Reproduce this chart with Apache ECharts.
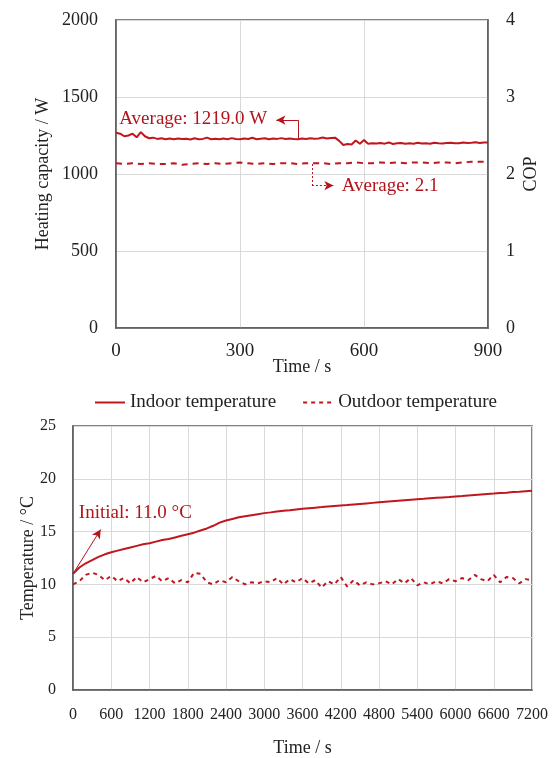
<!DOCTYPE html>
<html>
<head>
<meta charset="utf-8">
<script src="https://cdn.jsdelivr.net/npm/echarts@6/dist/echarts.min.js"></script>
<style>html,body{margin:0;padding:0;background:#fff}#c{width:558px;height:758px}</style>
</head>
<body>
<div id="c"></div>
<script>
// Top chart: time (s) every 10 s
const capTimeStep = 10;
const heatingCapacity = [1268,1262,1245,1250,1262,1238,1272,1245,1232,1236,1228,1232,1226,1230,1225,1231,1227,1229,1224,1232,1226,1228,1236,1226,1229,1225,1230,1226,1233,1227,1225,1231,1227,1235,1226,1229,1232,1226,1230,1228,1233,1227,1231,1228,1226,1230,1228,1232,1229,1231,1237,1230,1234,1236,1215,1188,1195,1192,1218,1196,1220,1197,1200,1198,1201,1197,1205,1195,1199,1202,1197,1200,1196,1203,1198,1200,1197,1203,1199,1198,1201,1203,1199,1200,1205,1201,1203,1206,1201,1205,1204];
const copTimeStep = 20;
const cop = [2.14,2.13,2.14,2.13,2.14,2.13,2.13,2.14,2.12,2.13,2.14,2.13,2.14,2.13,2.14,2.15,2.14,2.13,2.14,2.13,2.14,2.14,2.13,2.14,2.14,2.14,2.13,2.14,2.14,2.15,2.14,2.14,2.15,2.14,2.15,2.14,2.15,2.15,2.14,2.15,2.15,2.14,2.15,2.16,2.16,2.16];
// Bottom chart: time (s) every 100 s
const tempTimeStep = 100;
const indoorTemp = [11.0,11.6,12.0,12.3,12.6,12.85,13.05,13.2,13.35,13.5,13.65,13.8,13.9,14.05,14.2,14.3,14.45,14.6,14.75,14.9,15.1,15.3,15.55,15.85,16.05,16.2,16.35,16.45,16.55,16.65,16.75,16.82,16.9,16.97,17.03,17.1,17.16,17.22,17.27,17.32,17.38,17.43,17.48,17.52,17.57,17.62,17.67,17.72,17.77,17.82,17.87,17.92,17.97,18.02,18.07,18.11,18.16,18.2,18.24,18.28,18.33,18.37,18.42,18.47,18.52,18.56,18.6,18.65,18.69,18.74,18.78,18.83,18.86];
const outdoorTemp = [10.0,10.3,10.9,11.1,10.9,10.4,10.8,10.3,10.6,10.1,10.7,10.2,10.5,10.8,10.3,10.6,10.1,10.4,10.2,11.1,11.0,10.2,10.0,10.4,10.2,10.7,10.3,10.0,10.2,10.1,10.3,10.2,10.6,10.0,10.5,10.2,10.6,10.1,10.4,9.7,10.3,10.0,10.7,9.8,10.4,9.9,10.2,10.0,10.1,10.3,10.0,10.5,10.1,10.6,9.9,10.2,10.0,10.3,10.1,10.5,10.3,10.6,10.4,10.9,10.5,10.3,10.9,10.2,10.7,10.6,10.1,10.5,10.4];
const seriesNames = ['Heating capacity','COP','Indoor temperature','Outdoor temperature'];
const topXTicks = {min:0, max:900, interval:300};
const topYTicks = {min:0, max:2000, interval:500};
const copTicks = {min:0, max:4, interval:1};
const botXTicks = {min:0, max:7200, interval:600};
const botYTicks = {min:0, max:25, interval:5};
const annCapText = 'Average: 1219.0 W';
const annCopText = 'Average: 2.1';
const annInitText = 'Initial: 11.0 °C';

const toPairs = (arr, step) => arr.map((v,i)=>[i*step, v]);
const RED = '#C0161E';
const ANN = '#B3141C';
const FONT = 'Liberation Serif';
const plain = v => String(v);
const axisLbl = (size)=>({fontFamily:FONT,fontSize:size,color:'#222',formatter:plain});
const splitL = {show:true,lineStyle:{color:'#d9d9d9',width:1}};
const axLine = {show:true,lineStyle:{color:'#595959',width:1.5}};
const nameTS = {fontFamily:FONT,fontSize:18,color:'#222'};

const chart = echarts.init(document.getElementById('c'), null, {renderer:'canvas'});
chart.setOption({
  animation:false,
  backgroundColor:'#fff',
  grid:[
    {left:116,right:70,top:20,height:308,show:true,borderColor:'#595959',borderWidth:1.5,backgroundColor:'transparent'},
    {left:73,right:26,top:426,height:266,show:true,borderColor:'#595959',borderWidth:1.5,backgroundColor:'transparent'}
  ],
  legend:{
    data:['Indoor temperature','Outdoor temperature'],
    left:89, top:388, itemWidth:30, itemHeight:10, itemGap:26,
    itemStyle:{opacity:0},
    textStyle:{fontFamily:FONT,fontSize:19,color:'#222'},
    selectedMode:false
  },
  xAxis:[
    {type:'value',gridIndex:0,...topXTicks,axisLine:axLine,axisTick:{show:false},splitLine:splitL,
     axisLabel:{...axisLbl(19),margin:14},
     name:'Time / s',nameLocation:'middle',nameGap:30,nameMoveOverlap:false,nameTextStyle:nameTS},
    {type:'value',gridIndex:1,...botXTicks,axisLine:axLine,axisTick:{show:false},splitLine:splitL,
     axisLabel:{...axisLbl(16),margin:17},
     name:'Time / s',nameLocation:'middle',nameGap:49,nameMoveOverlap:false,nameTextStyle:nameTS}
  ],
  yAxis:[
    {type:'value',gridIndex:0,...topYTicks,axisLine:axLine,axisTick:{show:false},splitLine:splitL,
     axisLabel:{...axisLbl(18),margin:18},
     name:'Heating capacity / W',nameLocation:'middle',nameGap:64,nameMoveOverlap:false,nameTextStyle:nameTS},
    {type:'value',gridIndex:0,position:'right',...copTicks,axisLine:axLine,axisTick:{show:false},splitLine:{show:false},
     axisLabel:{...axisLbl(18),margin:18},
     name:'COP',nameLocation:'middle',nameGap:34,nameMoveOverlap:false,nameTextStyle:nameTS},
    {type:'value',gridIndex:1,...botYTicks,axisLine:axLine,axisTick:{show:false},splitLine:splitL,
     axisLabel:{...axisLbl(16),margin:17},
     name:'Temperature / °C',nameLocation:'middle',nameGap:36,nameMoveOverlap:false,nameTextStyle:nameTS}
  ],
  series:[
    {name:seriesNames[0],type:'line',xAxisIndex:0,yAxisIndex:0,data:toPairs(heatingCapacity,capTimeStep),
     symbol:'none',lineStyle:{color:RED,width:2},itemStyle:{color:RED},
     markLine:{silent:true,symbol:['none','arrow'],symbolSize:[7,9],label:{show:false},
       lineStyle:{color:ANN,width:1,type:'solid'},
       data:[
         [{coord:[440,1228],symbol:'none'},{coord:[440,1350],symbol:'none'}],
         [{coord:[440,1350],symbol:'none'},{coord:[388,1350],symbol:'arrow'}]
       ]},
     markPoint:{silent:true,symbol:'circle',symbolSize:0,
       data:[{coord:[8,1357],label:{show:true,position:'right',distance:0,formatter:annCapText,
         fontFamily:FONT,fontSize:19,color:ANN}}]}
    },
    {name:seriesNames[1],type:'line',xAxisIndex:0,yAxisIndex:1,data:toPairs(cop,copTimeStep),
     symbol:'none',lineStyle:{color:RED,width:2,type:[6,5]},itemStyle:{color:RED},
     markLine:{silent:true,symbol:['none','arrow'],symbolSize:[7,9],label:{show:false},
       lineStyle:{color:ANN,width:1,type:[2,2]},
       data:[
         [{coord:[474,2.13],symbol:'none'},{coord:[474,1.85],symbol:'none'}],
         [{coord:[474,1.85],symbol:'none'},{coord:[526,1.85],symbol:'arrow'}]
       ]},
     markPoint:{silent:true,symbol:'circle',symbolSize:0,
       data:[{coord:[546,1.84],label:{show:true,position:'right',distance:0,formatter:annCopText,
         fontFamily:FONT,fontSize:19,color:ANN}}]}
    },
    {name:seriesNames[2],type:'line',xAxisIndex:1,yAxisIndex:2,data:toPairs(indoorTemp,tempTimeStep),
     symbol:'none',lineStyle:{color:RED,width:2},itemStyle:{color:RED},
     markLine:{silent:true,symbol:['none','arrow'],symbolSize:[7,9],label:{show:false},
       lineStyle:{color:ANN,width:1,type:'solid'},
       data:[[{coord:[0,11.0],symbol:'none'},{coord:[434,15.2],symbol:'arrow'}]]},
     markPoint:{silent:true,symbol:'circle',symbolSize:0,
       data:[{coord:[92,16.8],label:{show:true,position:'right',distance:0,formatter:annInitText,
         fontFamily:FONT,fontSize:19,color:ANN}}]}
    },
    {name:seriesNames[3],type:'line',xAxisIndex:1,yAxisIndex:2,data:toPairs(outdoorTemp,tempTimeStep),
     symbol:'none',lineStyle:{color:RED,width:2,type:[4,4]},itemStyle:{color:RED}}
  ]
});
</script>
</body>
</html>
